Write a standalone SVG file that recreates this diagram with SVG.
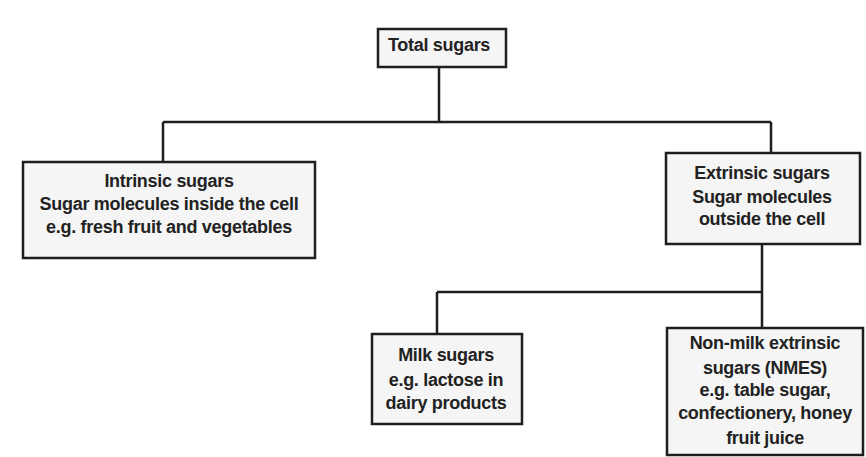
<svg xmlns="http://www.w3.org/2000/svg" width="866" height="457" viewBox="0 0 866 457">
<style>
.box{fill:#f5f5f5;stroke:#1e1e1e;stroke-width:2.5}
.t{font-family:"Liberation Sans",Arial,sans-serif;font-size:18px;font-weight:bold;fill:#222222;text-anchor:middle;letter-spacing:-0.3px}
.c{fill:none;stroke:#1e1e1e;stroke-width:2.5}
</style>
<rect width="866" height="457" fill="#ffffff"/>
<g id="connectors">
<path class="c" d="M439,67 V122 M163,122 H771 M163,122 V162 M771,122 V153"/>
<path class="c" d="M762,244 V292 M437,292 H762 M437,292 V334 M762,292 V328"/>
</g>
<g id="total">
<rect class="box" x="378" y="29" width="128" height="38"/>
<text class="t" x="439" y="51">Total sugars</text>
</g>
<g id="intrinsic">
<rect class="box" x="23" y="162" width="292" height="96"/>
<text class="t" x="169" y="187">Intrinsic sugars</text>
<text class="t" x="169" y="210">Sugar molecules inside the cell</text>
<text class="t" x="169" y="233">e.g. fresh fruit and vegetables</text>
</g>
<g id="extrinsic">
<rect class="box" x="666" y="153" width="194" height="91"/>
<text class="t" x="762" y="179">Extrinsic sugars</text>
<text class="t" x="762" y="203">Sugar molecules</text>
<text class="t" x="762" y="225">outside the cell</text>
</g>
<g id="milk">
<rect class="box" x="372" y="334" width="150" height="90"/>
<text class="t" x="446" y="361">Milk sugars</text>
<text class="t" x="446" y="386">e.g. lactose in</text>
<text class="t" x="446" y="409">dairy products</text>
</g>
<g id="nmes">
<rect class="box" x="667" y="328" width="196" height="127"/>
<text class="t" x="765" y="349">Non-milk extrinsic</text>
<text class="t" x="765" y="374">sugars (NMES)</text>
<text class="t" x="765" y="396">e.g. table sugar,</text>
<text class="t" x="765" y="419">confectionery, honey</text>
<text class="t" x="765" y="444">fruit juice</text>
</g>
</svg>
